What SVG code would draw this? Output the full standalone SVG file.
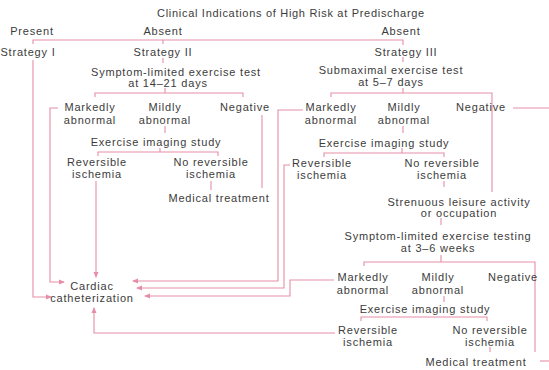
<svg xmlns="http://www.w3.org/2000/svg" width="549" height="370" viewBox="0 0 549 370">
<defs>
<style>
text{font-family:"Liberation Sans",Arial,sans-serif;font-size:11px;fill:#3c3c3c;text-anchor:middle;letter-spacing:0.8px}
.title{letter-spacing:0.7px}
.c{fill:none;stroke:#e58ea6;stroke-width:1.1}
.a{marker-end:url(#ah)}
</style>
<marker id="ah" markerWidth="6" markerHeight="6" refX="5" refY="3" orient="auto" markerUnits="userSpaceOnUse">
<path d="M0,0.5 L6,3 L0,5.5 z" fill="#e58ea6"/>
</marker>
</defs>
<rect width="549" height="370" fill="#ffffff"/>

<g id="connectors">
<!-- top split -->
<path class="c" d="M33,44 V40 H403 V45"/>
<path class="c" d="M163,40 V44"/>
<!-- Strategy I to cath -->
<path class="c a" d="M33,60 V297 H51"/>
<!-- Strategy II -->
<path class="c" d="M163,58 V63"/>
<path class="c" d="M95,97 V93 H243 V97 M165,88 V93"/>
<path class="c a" d="M58,108 H50 V282 H64"/>
<path class="c" d="M262,115 V188"/>
<path class="c" d="M165,126 V133"/>
<path class="c" d="M98,156 V152 H218 V156 M160,148 V152"/>
<path class="c a" d="M96,181 V277"/>
<path class="c" d="M211,181 V190"/>
<!-- Strategy III -->
<path class="c" d="M403,57 V62"/>
<path class="c" d="M331,97 V93 H492 V192 M403,88 V93"/>
<path class="c" d="M513,108 H549"/>
<path class="c" d="M403,126 V133"/>
<path class="c" d="M324,157 V153 H444 V157 M402,148 V153"/>
<path class="c" d="M444,181 V187"/>
<path class="c" d="M441,218 V225"/>
<path class="c" d="M364,266 V262 H535 V352 M441,255 V262"/>
<path class="c" d="M444,296 V302"/>
<path class="c" d="M361,321 V317 H487 V321"/>
<path class="c" d="M490,347 V352"/>
<path class="c" d="M540,361 H549"/>
<!-- to cardiac catheterization -->
<path class="c a" d="M303,110 H278 V281 H133"/>
<path class="c a" d="M290,165 H284 V288 H137"/>
<path class="c a" d="M334,280 H290 V296 H145"/>
<path class="c a" d="M335,333 H94 V308"/>
</g>

<g id="title"><text class="title" x="291" y="17">Clinical Indications of High Risk at Predischarge</text></g>
<g id="present"><text x="32" y="35">Present</text></g>
<g id="absent2"><text x="163" y="35">Absent</text></g>
<g id="absent3"><text x="401" y="35">Absent</text></g>
<g id="strategy1"><text x="28" y="56">Strategy I</text></g>
<g id="strategy2"><text x="163" y="56">Strategy II</text></g>
<g id="strategy3"><text x="406" y="56">Strategy III</text></g>

<g id="s2-test"><text x="176" y="76">Symptom-limited exercise test</text><text x="168" y="87">at 14–21 days</text></g>
<g id="s2-marked"><text x="90" y="111">Markedly</text><text x="90" y="124">abnormal</text></g>
<g id="s2-mild"><text x="165" y="111">Mildly</text><text x="165" y="124">abnormal</text></g>
<g id="s2-neg"><text x="245" y="111">Negative</text></g>
<g id="s2-imaging"><text x="156" y="146">Exercise imaging study</text></g>
<g id="s2-rev"><text x="97" y="166">Reversible</text><text x="97" y="178">ischemia</text></g>
<g id="s2-norev"><text x="211" y="166">No reversible</text><text x="211" y="178">ischemia</text></g>
<g id="s2-med"><text x="219" y="202">Medical treatment</text></g>

<g id="s3-test"><text x="391" y="74">Submaximal exercise test</text><text x="391" y="86">at 5–7 days</text></g>
<g id="s3-marked"><text x="331" y="111">Markedly</text><text x="331" y="124">abnormal</text></g>
<g id="s3-mild"><text x="404" y="111">Mildly</text><text x="404" y="124">abnormal</text></g>
<g id="s3-neg"><text x="481" y="111">Negative</text></g>
<g id="s3-imaging"><text x="384" y="147">Exercise imaging study</text></g>
<g id="s3-rev"><text x="322" y="167">Reversible</text><text x="322" y="179">ischemia</text></g>
<g id="s3-norev"><text x="442" y="167">No reversible</text><text x="442" y="179">ischemia</text></g>
<g id="strenuous"><text x="459" y="206">Strenuous leisure activity</text><text x="459" y="217">or occupation</text></g>

<g id="w-test"><text x="438" y="240">Symptom-limited exercise testing</text><text x="438" y="252">at 3–6 weeks</text></g>
<g id="w-marked"><text x="363" y="281">Markedly</text><text x="363" y="294">abnormal</text></g>
<g id="w-mild"><text x="438" y="281">Mildly</text><text x="438" y="294">abnormal</text></g>
<g id="w-neg"><text x="513" y="281">Negative</text></g>
<g id="w-imaging"><text x="425" y="313">Exercise imaging study</text></g>
<g id="w-rev"><text x="368" y="334">Reversible</text><text x="368" y="346">ischemia</text></g>
<g id="w-norev"><text x="490" y="334">No reversible</text><text x="490" y="346">ischemia</text></g>
<g id="w-med"><text x="476" y="366">Medical treatment</text></g>

<g id="cath"><text x="92" y="290">Cardiac</text><text x="92" y="302">catheterization</text></g>
</svg>
